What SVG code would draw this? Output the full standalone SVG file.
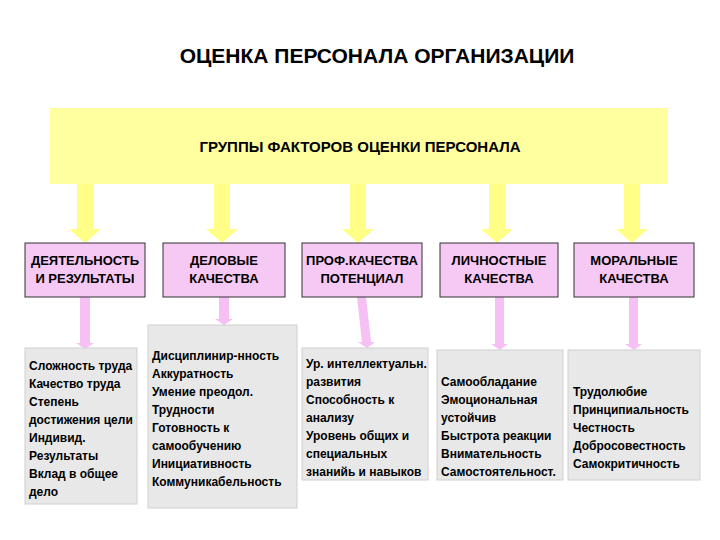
<svg xmlns="http://www.w3.org/2000/svg" width="720" height="540" viewBox="0 0 720 540">
<style>
text{font-family:"Liberation Sans",Arial,sans-serif;font-weight:bold;fill:#000}
.h{font-size:13px;text-anchor:middle}
.t{font-size:12px}
.p{fill:#f6c8f4;stroke:#333;stroke-width:1}
.g{fill:#e8e8e8;stroke:#d0d0d0;stroke-width:1}
.ya{fill:#ffff88}
.pa{fill:#f6c0f4}
</style>
<rect width="720" height="540" fill="#fff"/>
<text x="377" y="63" style="font-size:21px;text-anchor:middle">ОЦЕНКА ПЕРСОНАЛА ОРГАНИЗАЦИИ</text>
<g id="banner"><rect x="50" y="108" width="618" height="76" fill="#ffffa0"/>
<text x="360" y="152" style="font-size:15px;text-anchor:middle">ГРУППЫ ФАКТОРОВ ОЦЕНКИ ПЕРСОНАЛА</text></g>
<g id="connectors">
<path class="ya" d="M77 184h16v45h8l-16 14l-16-14h8z"/>
<path class="ya" d="M214 184h16v45h8l-16 14l-16-14h8z"/>
<path class="ya" d="M350 184h16v45h8l-16 14l-16-14h8z"/>
<path class="ya" d="M489 184h16v45h8l-16 14l-16-14h8z"/>
<path class="ya" d="M624 184h16v45h8l-16 14l-16-14h8z"/>
<path class="pa" d="M80 297h10v46h4l-9 6l-9-6h4z"/>
<path class="pa" d="M219 297h10v22h4l-9 6l-9-6h4z"/>
<path class="pa" d="M357 297h9l5 45h4l-8 6l-9-6h4z"/>
<path class="pa" d="M495 297h9v47h4l-8 6l-9-6h4z"/>
<path class="pa" d="M629 297h9v47h4l-8 6l-9-6h4z"/>
</g>
<g id="n1"><rect class="p" x="25" y="243" width="120" height="54"/><text class="h" x="85" y="265">ДЕЯТЕЛЬНОСТЬ</text><text class="h" x="85" y="283">И РЕЗУЛЬТАТЫ</text></g>
<g id="n2"><rect class="p" x="163" y="243" width="122" height="54"/><text class="h" x="224" y="265">ДЕЛОВЫЕ</text><text class="h" x="224" y="283">КАЧЕСТВА</text></g>
<g id="n3"><rect class="p" x="302" y="243" width="120" height="54"/><text class="h" x="362" y="265">ПРОФ.КАЧЕСТВА</text><text class="h" x="362" y="283">ПОТЕНЦИАЛ</text></g>
<g id="n4"><rect class="p" x="440" y="243" width="118" height="54"/><text class="h" x="499" y="265">ЛИЧНОСТНЫЕ</text><text class="h" x="499" y="283">КАЧЕСТВА</text></g>
<g id="n5"><rect class="p" x="574" y="243" width="120" height="54"/><text class="h" x="634" y="265">МОРАЛЬНЫЕ</text><text class="h" x="634" y="283">КАЧЕСТВА</text></g>
<g id="d1"><rect class="g" x="25" y="348" width="112" height="156"/>
<text class="t" x="29" y="370">Сложность труда</text><text class="t" x="29" y="388">Качество труда</text><text class="t" x="29" y="406">Степень</text><text class="t" x="29" y="424">достижения цели</text><text class="t" x="29" y="442">Индивид.</text><text class="t" x="29" y="460">Результаты</text><text class="t" x="29" y="478">Вклад в общее</text><text class="t" x="29" y="496">дело</text></g>
<g id="d2"><rect class="g" x="148" y="325" width="149" height="183"/>
<text class="t" x="152" y="360">Дисциплинир-нность</text><text class="t" x="152" y="378">Аккуратность</text><text class="t" x="152" y="396">Умение преодол.</text><text class="t" x="152" y="414">Трудности</text><text class="t" x="152" y="432">Готовность к</text><text class="t" x="152" y="450">самообучению</text><text class="t" x="152" y="468">Инициативность</text><text class="t" x="152" y="486">Коммуникабельность</text></g>
<g id="d3"><rect class="g" x="302" y="348" width="126" height="132"/>
<text class="t" x="306" y="368">Ур. интеллектуальн.</text><text class="t" x="306" y="386">развития</text><text class="t" x="306" y="404">Способность к</text><text class="t" x="306" y="422">анализу</text><text class="t" x="306" y="440">Уровень общих и</text><text class="t" x="306" y="458">специальных</text><text class="t" x="306" y="476">знанийь и навыков</text></g>
<g id="d4"><rect class="g" x="437" y="350" width="126" height="130"/>
<text class="t" x="441" y="386">Самообладание</text><text class="t" x="441" y="404">Эмоциональная</text><text class="t" x="441" y="422">устойчив</text><text class="t" x="441" y="440">Быстрота реакции</text><text class="t" x="441" y="458">Внимательность</text><text class="t" x="441" y="476">Самостоятельност.</text></g>
<g id="d5"><rect class="g" x="568" y="350" width="132" height="130"/>
<text class="t" x="573" y="396">Трудолюбие</text><text class="t" x="573" y="414">Принципиальность</text><text class="t" x="573" y="432">Честность</text><text class="t" x="573" y="450">Добросовестность</text><text class="t" x="573" y="468">Самокритичность</text></g>
</svg>
